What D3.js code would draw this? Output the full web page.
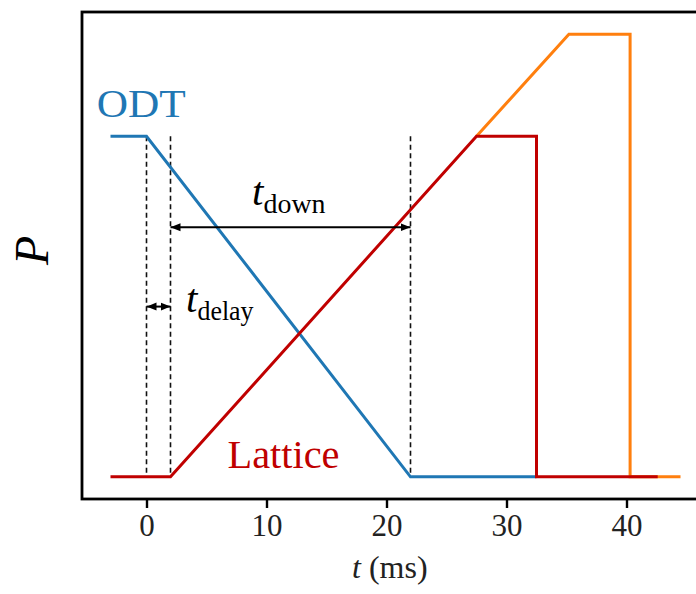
<!DOCTYPE html>
<html><head><meta charset="utf-8">
<script src="https://cdn.jsdelivr.net/npm/d3@7"></script>
<style>body{margin:0;background:#fff}svg{display:block}</style>
</head><body>
<svg id="c" width="696" height="594"></svg>
<script>
// ---- data ----
const odtT = [-3, 0, 22, 32.5];
const odtP = [1, 1, 0, 0];
const latticeT = [-3, 2, 27.5, 32.5, 32.5, 42.6];
const latticeP = [0, 0, 1, 1, 0, 0];
const extT = [27.5, 35.2, 40.3, 40.3, 44.5];
const extP = [1, 1.3, 1.3, 0, 0];
const dashT = [0, 2, 22];
const xTicks = [0, 10, 20, 30, 40];

const svg = d3.select("#c");
const x = d3.scaleLinear().domain([-5.375, 46.875]).range([82, 709]);
const y = d3.scaleLinear().domain([-0.065, 1.365]).range([499, 12]);
const serif = "'Liberation Serif', 'Times New Roman', serif";

// dashed guides
svg.selectAll("line.dash").data(dashT).join("line")
  .attr("x1", d => x(d)).attr("x2", d => x(d))
  .attr("y1", y(1)).attr("y2", y(0))
  .attr("stroke", "#111").attr("stroke-width", 1.6)
  .attr("stroke-dasharray", "5,3.5");

const line = d3.line().x(d => x(d[0])).y(d => y(d[1]));
function series(T, P, color) {
  svg.append("path").datum(T.map((t, i) => [t, P[i]]))
    .attr("d", line).attr("fill", "none").attr("stroke", color)
    .attr("stroke-width", 3).attr("stroke-linejoin", "miter");
}
series(odtT, odtP, "#1f77b4");
series(extT, extP, "#ff7f0e");
series(latticeT, latticeP, "#c00000");

// arrows
const defs = svg.append("defs");
["s", "e"].forEach(k => {
  defs.append("marker").attr("id", "m" + k)
    .attr("viewBox", "0 0 10 10").attr("refX", k === "e" ? 10 : 0).attr("refY", 5)
    .attr("markerWidth", 5).attr("markerHeight", 5).attr("markerUnits", "strokeWidth")
    .attr("orient", "auto")
    .append("path")
    .attr("d", k === "e" ? "M0,1 L10,5 L0,9 Z" : "M10,1 L0,5 L10,9 Z")
    .attr("fill", "#000");
});
const arrows = [[0, 2, 0.5], [2, 22, 0.733]];
svg.selectAll("line.arr").data(arrows).join("line")
  .attr("x1", d => x(d[0])).attr("x2", d => x(d[1]))
  .attr("y1", d => y(d[2])).attr("y2", d => y(d[2]))
  .attr("stroke", "#000").attr("stroke-width", 2)
  .attr("marker-start", "url(#ms)").attr("marker-end", "url(#me)");

// labels
function subLabel(tx, py, sub, len) {
  const t = svg.append("text").attr("x", x(tx)).attr("y", y(py))
    .attr("font-family", serif).attr("fill", "#000");
  t.append("tspan").attr("font-style", "italic").attr("font-size", 41).text("t");
  t.append("tspan").attr("font-size", 28).attr("dy", 8).attr("dx", 0)
    .attr("textLength", len).attr("lengthAdjust", "spacingAndGlyphs").text(sub);
}
subLabel(8.8, 0.798, "down", 62);
subLabel(3.3, 0.484, "delay", 56);

svg.append("text").attr("x", x(-4.15)).attr("y", y(1.056))
  .attr("font-family", serif).attr("font-size", 41).attr("fill", "#1f77b4")
  .attr("textLength", 89).attr("lengthAdjust", "spacingAndGlyphs").text("ODT");
svg.append("text").attr("x", x(6.75)).attr("y", y(0.026))
  .attr("font-family", serif).attr("font-size", 41).attr("fill", "#c00000")
  .attr("textLength", 112).attr("lengthAdjust", "spacingAndGlyphs").text("Lattice");

// axis
const ax = svg.append("g").attr("transform", "translate(0,499)")
  .call(d3.axisBottom(x).tickValues(xTicks).tickSize(9).tickPadding(6).tickFormat(d3.format("d")));
ax.select(".domain").remove();
ax.selectAll(".tick line").attr("stroke", "#000").attr("stroke-width", 2.4);
ax.selectAll(".tick text").attr("font-family", serif).attr("font-size", 31).attr("fill", "#222");

// frame
svg.append("rect").attr("x", x.range()[0]).attr("y", y.range()[1])
  .attr("width", x.range()[1] - x.range()[0]).attr("height", y.range()[0] - y.range()[1])
  .attr("fill", "none").attr("stroke", "#000").attr("stroke-width", 2.8);

// axis titles
const xl = svg.append("text").attr("x", 352).attr("y", 578)
  .attr("font-family", serif).attr("font-size", 32).attr("fill", "#222");
xl.append("tspan").attr("font-style", "italic").text("t");
xl.append("tspan").text(" (ms)");
svg.append("text").attr("transform", "translate(48,265) rotate(-90)")
  .attr("font-family", serif).attr("font-style", "italic").attr("font-size", 48)
  .attr("fill", "#000").text("P");
</script>
</body></html>
